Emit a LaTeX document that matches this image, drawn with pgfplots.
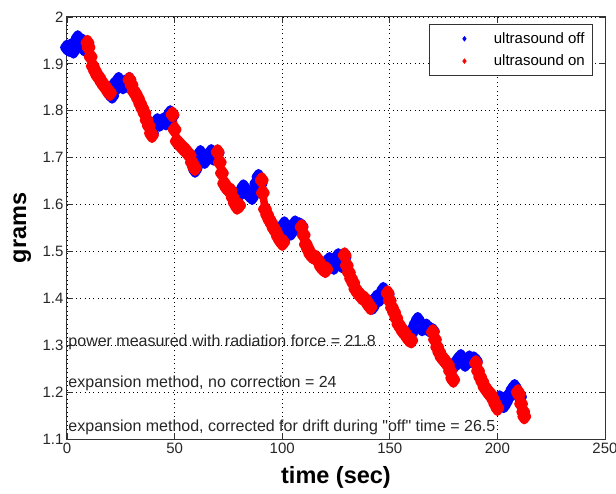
\documentclass[border=0pt]{standalone}
\usepackage{fontspec}
\setmainfont{Liberation Sans}
\usepackage{pgfplots}
\pgfplotsset{compat=1.18}
\begin{document}
\begin{tikzpicture}
\begin{axis}[
  scale only axis, width=538pt, height=422pt,
  xmin=0, xmax=250, ymin=1.1, ymax=2,
  xtick={0,50,100,150,200,250},
  ytick={1.1,1.2,1.3,1.4,1.5,1.6,1.7,1.8,1.9,2},
  yticklabel style={/pgf/number format/.cd,fixed,precision=1},
  /pgf/number format/assume math mode=true,
  tick label style={font=\fontsize{15}{17}\selectfont, color=black!85},
  tick align=inside, major tick length=6pt,
  tick style={black!80, line width=0.8pt},
  axis line style={black!80, line width=1pt},
  grid=major,
  major grid style={black, line width=0.8pt, dash pattern=on 0.8pt off 3.6pt},
  xlabel={\textbf{time (sec)}},
  ylabel={\textbf{grams}},
  label style={font=\fontsize{23.5}{25}\selectfont},
  xlabel style={at={(axis description cs:0.5,-0.092)}, anchor=center},
  ylabel style={at={(axis description cs:-0.083,0.5)}, anchor=center},
  unbounded coords=jump,
  legend style={at={(rel axis cs:0.978,0.983)}, anchor=north east,
    font=\fontsize{15}{17}\selectfont, draw=black!80, line width=0.8pt,
    cells={anchor=west}, inner xsep=6pt, inner ysep=6pt, row sep=6pt},
  legend image code/.code={\path (0pt,0pt) (56pt,0pt); \draw[#1] plot coordinates {(29pt,0pt)};},
]
\addlegendimage{only marks, mark=diamond*, mark size=2.2pt, blue}
\addlegendentry{ultrasound off}
\addlegendimage{only marks, mark=diamond*, mark size=2.2pt, red}
\addlegendentry{ultrasound on}

\addplot[forget plot, blue, line width=7.5pt, line join=round, mark=diamond*, mark size=4.2pt] coordinates {
(0,1.935)(1,1.932)(2,1.938)(3,1.928)(4,1.945)(5,1.955)(6,1.942)(7,1.948)(8,1.933)(9,1.940)(9.5,1.942)
(10,nan)
(20,1.836)(21,1.832)(22,1.855)(23,1.850)(24,1.866)(25,1.858)(26,1.852)(27,1.860)(28,1.855)(29,1.866)
(30,nan)
(39.5,1.752)(40,1.765)(41,1.770)(42,1.778)(43,1.772)(44,1.776)(45,1.780)(46,1.775)(47,1.785)(48,1.795)(49,1.790)
(50,nan)
(59.5,1.674)(60,1.680)(61,1.700)(62,1.710)(63,1.700)(64,1.693)(65,1.700)(66,1.705)(67,1.712)(68,1.700)(69,1.705)(70,1.710)
(71,nan)
(80,1.622)(81,1.628)(82,1.637)(83,1.630)(84,1.625)(85,1.620)(86,1.616)(87,1.625)(88,1.645)(89,1.659)(90,1.645)
(91,nan)
(100.5,1.525)(101,1.558)(102,1.552)(103,1.545)(104,1.540)(105,1.548)(106,1.560)(107,1.552)(108,1.556)(109,1.553)
(110,nan)
(120.5,1.470)(121,1.478)(122,1.482)(123,1.475)(124,1.467)(125,1.476)(126,1.490)(127,1.480)(128,1.470)(129,1.488)
(130,nan)
(141,1.390)(142,1.382)(143,1.395)(144,1.402)(145,1.398)(146,1.405)(147,1.418)(148,1.410)(149,1.408)
(150,nan)
(160,1.326)(161,1.335)(162,1.345)(163,1.354)(164,1.345)(165,1.336)(166,1.338)(167,1.340)(168,1.335)(169,1.332)(170,1.330)
(171,nan)
(179.5,1.255)(180,1.258)(181,1.262)(182,1.270)(183,1.275)(184,1.265)(185,1.260)(186,1.265)(187,1.272)(188,1.268)(189,1.270)(190,1.266)
(191,nan)
(200,1.180)(201,1.187)(202,1.180)(203,1.172)(204,1.180)(205,1.190)(206,1.195)(207,1.205)(208,1.211)(209,1.200)(210,1.195)(210.5,1.190)
};

\addplot[forget plot, red, line width=7.5pt, line join=round, mark=diamond*, mark size=4.2pt] coordinates {
(9.5,1.945)(10,1.935)(11,1.915)(12,1.895)(13,1.885)(14,1.876)(15,1.870)(16,1.862)(17,1.855)(18,1.850)(19,1.842)(20,1.838)
(20.5,nan)
(29,1.866)(30,1.855)(31,1.842)(32,1.835)(33,1.826)(34,1.815)(35,1.805)(36,1.795)(37,1.780)(38,1.768)(39,1.752)(39.5,1.748)
(40,nan)
(49,1.792)(50,1.760)(51,1.735)(52,1.730)(53,1.725)(54,1.720)(55,1.716)(56,1.710)(57,1.705)(58,1.690)(59,1.680)(59.5,1.678)
(60,nan)
(70,1.712)(71,1.690)(72,1.667)(73,1.645)(74,1.637)(75,1.632)(76,1.630)(77,1.615)(78,1.603)(79,1.595)(80,1.598)
(80.5,nan)
(90.5,1.652)(91,1.625)(92,1.590)(93,1.578)(94,1.568)(95,1.560)(96,1.550)(97,1.543)(98,1.532)(99,1.524)(100,1.518)(100.5,1.520)
(101,nan)
(109,1.552)(110,1.535)(111,1.515)(112,1.505)(113,1.495)(114,1.490)(115,1.488)(116,1.485)(117,1.478)(118,1.468)(119,1.463)(120,1.460)(120.5,1.462)
(121,nan)
(129,1.492)(130,1.470)(131,1.455)(132,1.442)(133,1.433)(134,1.420)(135,1.413)(136,1.408)(137,1.402)(138,1.400)(139,1.395)(140,1.387)(141,1.381)
(142,nan)
(149,1.411)(150,1.395)(151,1.380)(152,1.370)(153,1.358)(154,1.345)(155,1.338)(156,1.330)(157,1.326)(158,1.318)(159,1.312)(160,1.310)
(161,nan)
(170,1.328)(171,1.312)(172,1.296)(173,1.285)(174,1.275)(175,1.270)(176,1.264)(177,1.258)(178,1.245)(179,1.230)(179.5,1.226)
(180,nan)
(190,1.262)(191,1.245)(192,1.232)(193,1.222)(194,1.211)(195,1.205)(196,1.198)(197,1.194)(198,1.185)(199,1.175)(200,1.166)
(201,nan)
(209.5,1.200)(210,1.195)(211,1.175)(212,1.158)(212.5,1.148)
};

\node[anchor=west, inner sep=0pt, font=\fontsize{16}{18}\selectfont, black!85] at (axis cs:0.6,1.307) {power measured with radiation force = 21.8};
\node[anchor=west, inner sep=0pt, font=\fontsize{16}{18}\selectfont, black!85] at (axis cs:0.6,1.218) {expansion method, no correction = 24};
\node[anchor=west, inner sep=0pt, font=\fontsize{16}{18}\selectfont, black!85] at (axis cs:0.6,1.125) {expansion method, corrected for drift during \textquotedbl off\textquotedbl\ time = 26.5};
\coordinate (SW) at (rel axis cs:0,0);
\coordinate (NE) at (rel axis cs:1,1);
\end{axis}
\pgfresetboundingbox
\path ([shift={(-67pt,-54pt)}]SW) rectangle ([shift={(11pt,17pt)}]NE);
\end{tikzpicture}
\end{document}
